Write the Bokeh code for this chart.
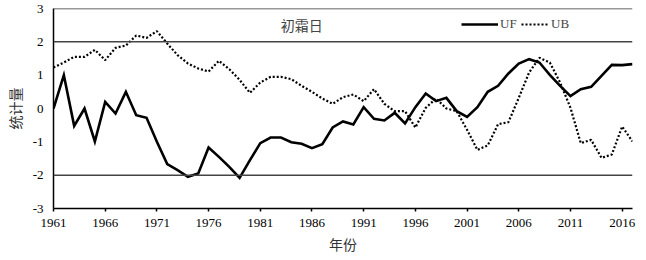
from bokeh.plotting import figure
from bokeh.models import (Range1d, FixedTicker, Span, Label, Legend, LegendItem,
                          CustomJSTickFormatter)
from bokeh.embed import file_html
from bokeh.resources import INLINE

years = list(range(1961, 2018))
uf = [0.0, 1.0, -0.52, 0.0, -0.99, 0.2, -0.15, 0.5, -0.2, -0.28,
      -1.0, -1.67, -1.85, -2.05, -1.95, -1.17, -1.45, -1.75, -2.08, -1.55,
      -1.04, -0.87, -0.87, -1.01, -1.06, -1.19, -1.07, -0.57, -0.39, -0.48,
      0.04, -0.31, -0.36, -0.13, -0.45, 0.04, 0.45, 0.22, 0.32, -0.08,
      -0.25, 0.04, 0.5, 0.68, 1.05, 1.35, 1.48, 1.38, 1.01, 0.68,
      0.37, 0.58, 0.65, 0.98, 1.31, 1.3, 1.33]
ub = [1.23, 1.38, 1.55, 1.55, 1.76, 1.45, 1.82, 1.89, 2.19, 2.12,
      2.32, 1.95, 1.6, 1.35, 1.2, 1.11, 1.43, 1.18, 0.86, 0.47,
      0.78, 0.95, 0.95, 0.88, 0.68, 0.5, 0.3, 0.14, 0.34, 0.42,
      0.22, 0.58, 0.14, -0.08, -0.08, -0.57, 0.02, 0.3, 0.0, -0.08,
      -0.64, -1.24, -1.11, -0.47, -0.41, 0.32, 1.08, 1.52, 1.38, 0.78,
      0.02, -1.04, -0.94, -1.48, -1.38, -0.54, -0.99]
x_ticks = list(range(1961, 2017, 5))
y_ticks = [-3, -2, -1, 0, 1, 2, 3]
thresholds = [2, -2]
title_text = "初霜日"

SERIF = "Times New Roman"
CJK = "Noto Sans CJK SC"

p = figure(width=646, height=260, output_backend="svg", toolbar_location=None,
           x_range=Range1d(1961, 2017), y_range=Range1d(-3, 3),
           min_border_left=53, min_border_right=14, min_border_top=8,
           min_border_bottom=52)
p.outline_line_color = None
p.background_fill_color = "white"
p.border_fill_color = "white"
p.grid.visible = False

for t in thresholds:
    p.add_layout(Span(location=t, dimension="width", line_color="#444444",
                      line_width=1.5))
p.add_layout(Span(location=3, dimension="width", line_color="#333333",
                  line_width=1.5))

r_uf = p.line(years, uf, line_color="black", line_width=2.6, line_join="miter")
r_ub = p.line(years, ub, line_color="black", line_width=2.2, line_dash="2 2")

xa = p.xaxis[0]
xa.ticker = FixedTicker(ticks=x_ticks, minor_ticks=[])
xa.formatter = CustomJSTickFormatter(code="return String(tick);")
xa.axis_label = "年份"
xa.axis_label_text_font = CJK
xa.axis_label_text_font_style = "normal"
xa.axis_label_text_font_size = "14px"
xa.axis_label_text_color = "#333333"
xa.axis_label_standoff = 4
xa.major_label_text_font = SERIF
xa.major_label_text_font_size = "13px"
xa.major_label_text_color = "black"
xa.major_label_standoff = 7
xa.major_tick_in = 0
xa.major_tick_out = 3
xa.axis_line_width = 1.5
xa.major_tick_line_width = 1.5

ya = p.yaxis[0]
ya.ticker = FixedTicker(ticks=y_ticks, minor_ticks=[])
ya.formatter = CustomJSTickFormatter(code="return String(tick);")
ya.axis_label = "统计量"
ya.axis_label_text_font = CJK
ya.axis_label_text_font_style = "normal"
ya.axis_label_text_font_size = "14px"
ya.axis_label_text_color = "#333333"
ya.axis_label_standoff = 5
ya.major_label_text_font = SERIF
ya.major_label_text_font_size = "13px"
ya.major_label_text_color = "black"
ya.major_label_standoff = 10
ya.major_tick_in = 0
ya.major_tick_out = 0
ya.axis_line_width = 1.5

p.add_layout(Label(x=1985, y=2.52, text=title_text, text_font=CJK,
                   text_font_size="14px", text_color="#444444",
                   text_align="center", text_baseline="middle"))

common = dict(orientation="horizontal", background_fill_alpha=0,
              border_line_color=None, label_text_font=SERIF,
              label_text_font_size="13px", glyph_height=10, spacing=0,
              label_standoff=2, padding=0, margin=0)
leg1 = Legend(items=[LegendItem(label="UF", renderers=[r_uf])],
              location=(408, 176), glyph_width=37, **common)
leg2 = Legend(items=[LegendItem(label="UB", renderers=[r_ub])],
              location=(468, 176), glyph_width=28, **common)
p.add_layout(leg1)
p.add_layout(leg2)

open("out.html", "w").write(file_html(p, INLINE))
